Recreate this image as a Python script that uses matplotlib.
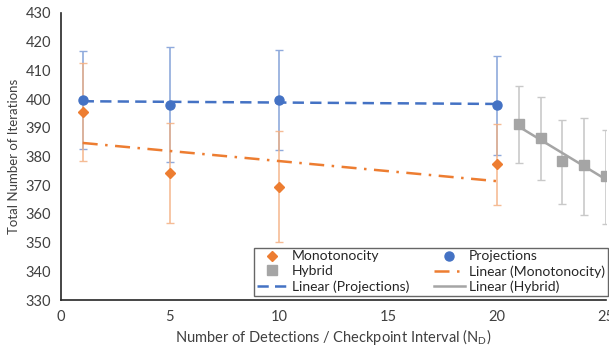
import numpy as np
import matplotlib.pyplot as plt

plt.rcParams['font.family'] = ['Lato', 'DejaVu Sans']

# data
x_main = [1, 5, 10, 20]
mono = [395.5, 374.3, 369.4, 377.3]
mono_lo = [378.5, 357.0, 350.3, 363.0]
mono_hi = [412.5, 391.7, 388.9, 391.4]
proj = [399.6, 398.0, 399.7, 398.1]
proj_lo = [382.7, 378.0, 382.2, 380.4]
proj_hi = [416.7, 418.0, 417.2, 415.0]
x_hyb = [21, 22, 23, 24, 25]
hyb = [391.4, 386.3, 378.4, 376.9, 373.1]
hyb_lo = [377.9, 372.0, 363.3, 359.6, 356.6]
hyb_hi = [404.6, 400.8, 392.8, 393.5, 389.4]

blue, orange, gray = '#4472C4', '#ED7D31', '#A5A5A5'

fig = plt.figure(figsize=(6.09, 3.49), dpi=100)
ax = fig.add_axes([0.100, 0.140, 0.895, 0.823])


def err(y, lo, hi):
    y = np.array(y)
    return [y - np.array(lo), np.array(hi) - y]


ax.errorbar(x_main, proj, yerr=err(proj, proj_lo, proj_hi), fmt='none',
            ecolor='#8FAADC', elinewidth=1.2, capsize=3, capthick=1, zorder=2)
ax.errorbar(x_main, mono, yerr=err(mono, mono_lo, mono_hi), fmt='none',
            ecolor='#F4B183', elinewidth=1.2, capsize=3, capthick=1, zorder=2, alpha=0.85)
ax.errorbar(x_hyb, hyb, yerr=err(hyb, hyb_lo, hyb_hi), fmt='none',
            ecolor='#C9C9C9', elinewidth=1.2, capsize=3, capthick=1, zorder=2)

# trendlines
xm = np.array(x_main)
pm = np.polyfit(xm, mono, 1)
pp = np.polyfit(xm, proj, 1)
xh = np.array(x_hyb)
ph = np.polyfit(xh, hyb, 1)
l_mono, = ax.plot([1, 20], np.polyval(pm, [1, 20]), color=orange, lw=1.8,
                  dashes=[6, 3, 1, 3], zorder=3, label='Linear (Monotonocity)')
l_proj, = ax.plot([1, 20], np.polyval(pp, [1, 20]), color=blue, lw=1.8,
                  dashes=[4.5, 2.5], zorder=3, label='Linear (Projections)')
l_hyb, = ax.plot([21, 25], np.polyval(ph, [21, 25]), color=gray, lw=1.8,
                 zorder=3, label='Linear (Hybrid)')

m_mono, = ax.plot(x_main, mono, 'D', color=orange, ms=5, ls='none', zorder=4, label='Monotonocity')
m_proj, = ax.plot(x_main, proj, 'o', color=blue, ms=6.5, ls='none', zorder=4, label='Projections')
m_hyb, = ax.plot(x_hyb, hyb, 's', color=gray, ms=6.5, ls='none', zorder=4, label='Hybrid')

ax.set_xlim(0, 25)
ax.set_ylim(330, 430)
ax.set_xticks(range(0, 26, 5))
ax.set_yticks(range(330, 431, 10))
ax.tick_params(length=0, labelsize=10.5, colors='#404040', pad=7)
for s in ['top', 'right']:
    ax.spines[s].set_visible(False)
for s in ['left', 'bottom']:
    ax.spines[s].set_color('#262626')
    ax.spines[s].set_linewidth(1.2)

ax.set_xlabel('Number of Detections / Checkpoint Interval (N$_\\mathregular{D}$)',
              fontsize=10.5, color='#404040', labelpad=2)
ax.set_ylabel('Total Number of Iterations', fontsize=9.5, color='#404040', labelpad=4)

handles = [m_mono, m_hyb, l_proj, m_proj, l_mono, l_hyb]
leg = ax.legend(handles=handles, ncol=2, loc='lower right',
                bbox_to_anchor=(1.003, 0.015), fontsize=10, frameon=True,
                fancybox=False, edgecolor='#404040', handlelength=2.2,
                handletextpad=0.3, columnspacing=1.8, labelspacing=0.2,
                borderpad=0.2, borderaxespad=0)
leg.get_frame().set_linewidth(1.0)
for t in leg.get_texts():
    t.set_color('#262626')

fig.savefig('out.png', dpi=100)
